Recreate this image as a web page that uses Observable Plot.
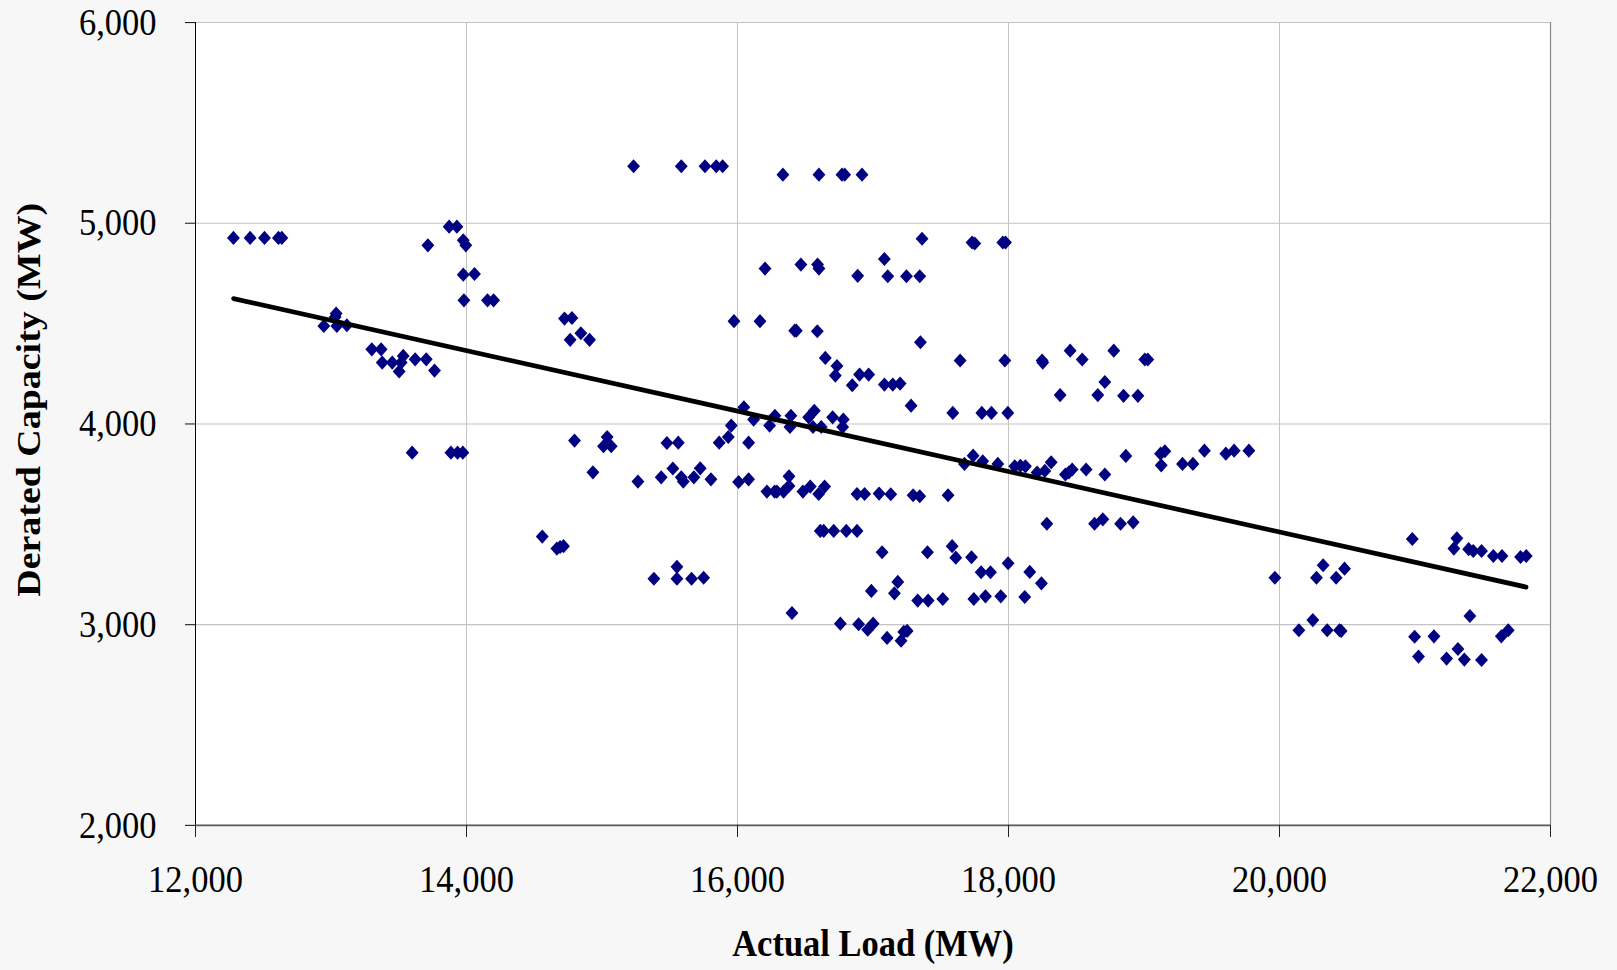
<!DOCTYPE html>
<html>
<head>
<meta charset="utf-8">
<script src="https://cdn.jsdelivr.net/npm/d3@7"></script>
<script src="https://cdn.jsdelivr.net/npm/@observablehq/plot@0.6"></script>
<style>
  html { overflow: hidden; background: #f7f7f7; }
  body { margin: 0; padding: 0; background: #f7f7f7; }
  #chart svg { display: block; }
</style>
</head>
<body>
<div id="chart"></div>
<script>
// Hourly observations: actual system load vs. derated capacity (both MW)
const loadMW = [
  12280, 12403, 12509, 12612, 12637, 13715, 13872, 13929, 13976, 13995,
  13976, 14059, 13981, 14155, 14200, 13038, 13031, 12947, 13043, 13117,
  13301, 13370, 13378, 13452, 13518, 13533, 13503, 13621, 13703, 13764,
  15233, 15585, 15760, 15843, 15890, 16335, 16601, 16771, 16791, 16919,
  16203, 16468, 16591, 16601, 16887, 14723, 14778, 14765, 14844, 14908,
  15974, 16166, 16422, 16434, 16589, 16648, 16734, 16722, 16847, 16901,
  16968, 16047, 15954, 16119, 16237, 16276, 16394, 16387, 16525, 16567,
  16557, 16618, 16702, 16781, 16776,
  17362, 17731, 17751, 17958, 17978, 17084, 17109, 17247, 17345, 17350,
  17643, 17973, 18248, 18253, 18455, 18544, 18777, 19006, 19028, 18711,
  18381, 18659, 18849, 18955, 17084, 17146, 17200, 17281, 17589, 17803,
  17874, 17995,
  13599, 13885, 13934, 13973,
  14797, 15038, 15011, 15068, 15479, 15563, 15865, 15932, 16082, 14933,
  15265, 15437, 15523, 15585, 15600, 15678, 15725, 15804, 16008, 16082,
  16217, 16274, 16291, 16340, 16380, 16380, 16483, 16537, 16599, 16643,
  16882, 16938, 14559, 14667, 14691, 14716, 15383, 15553, 15553, 15661,
  15750, 16611, 16636, 16710, 16803, 16882, 16402, 16759, 16894,
  17739, 17675, 17810, 17921, 18046, 18088, 18125, 18211, 18268, 18315,
  18420, 18445, 18470, 18573, 18711, 18866, 19122, 19154, 19127, 19284,
  19361, 17045, 17131, 17296, 17345, 17554, 18283, 18635, 18696, 18827,
  18920, 17067, 17402, 17584, 17611, 17727, 17798, 17867, 17997, 18157,
  18243, 16988, 17183, 17158, 17330, 17407, 17515, 17744, 17830, 17943,
  18120, 16961, 17001, 17104, 17207, 17227, 17252,
  19446, 19604, 19665, 19774, 19966, 20273, 20322, 20418, 20480, 20143,
  20246, 20352, 20443, 20455, 20980, 21309, 21287, 21396, 21430, 21491,
  21578, 21642, 21779, 21821, 20997, 21026, 21140, 21233, 21317, 21364,
  21491, 21405, 21637, 21688
];
const capacityMW = [
  4927, 4927, 4927, 4927, 4927, 4890, 4983, 4983, 4915, 4890,
  4744, 4747, 4616, 4616, 4616, 4550, 4533, 4488, 4488, 4492,
  4372, 4372, 4306, 4306, 4306, 4339, 4262, 4322, 4322, 4266,
  5284, 5284, 5284, 5284, 5284, 5242, 5242, 5242, 5242, 5242,
  4774, 4794, 4794, 4774, 4738, 4525, 4528, 4419, 4452, 4419,
  4512, 4512, 4465, 4465, 4462, 4329, 4289, 4241, 4193, 4246,
  4246, 4083, 3992, 4022, 3992, 4041, 4041, 3985, 4033, 4066,
  3985, 3985, 4033, 4022, 3985,
  4923, 4904, 4899, 4904, 4904, 4822, 4736, 4736, 4736, 4407,
  4316, 4316, 4316, 4306, 4365, 4321, 4365, 4321, 4321, 4209,
  4144, 4144, 4140, 4140, 4196, 4196, 4201, 4091, 4055, 4055,
  4055, 4055,
  3857, 3857, 3857, 3857,
  3917, 3935, 3889, 3889, 3905, 3907, 3907, 3935, 3907, 3759,
  3713, 3734, 3778, 3734, 3713, 3734, 3779, 3724, 3711, 3724,
  3663, 3663, 3663, 3663, 3691, 3739, 3663, 3688, 3651, 3688,
  3651, 3651, 3439, 3379, 3387, 3391, 3229, 3288, 3229, 3229,
  3234, 3467, 3467, 3467, 3467, 3467, 3058, 3005, 3002,
  3842, 3801, 3814, 3801, 3789, 3792, 3789, 3758, 3766, 3809,
  3748, 3758, 3773, 3773, 3748, 3841, 3852, 3864, 3794, 3801,
  3801, 3653, 3650, 3645, 3640, 3645, 3503, 3503, 3525, 3503,
  3510, 3361, 3361, 3391, 3334, 3336, 3261, 3261, 3306, 3263,
  3206, 3168, 3213, 3156, 3120, 3120, 3128, 3128, 3141, 3141,
  3138, 2975, 3005, 2934, 2920, 2964, 2969,
  3867, 3852, 3867, 3867, 3234, 3234, 3296, 3234, 3279, 2972,
  3023, 2972, 2972, 2969, 3427, 3430, 3379, 3376, 3367, 3367,
  3342, 3342, 3337, 3342, 2940, 2841, 2942, 2831, 2879, 2826,
  2824, 3043, 2942, 2972
];
const xTicks = [12000, 14000, 16000, 18000, 20000, 22000];
const yTicks = [2000, 3000, 4000, 5000, 6000];
const xTitle = "Actual Load (MW)";
const yTitle = "Derated Capacity (MW)";

const points = loadMW.map((load, i) => ({load, capacity: capacityMW[i]}));
const fmt = d3.format(",");
const serif = "'Liberation Serif', 'Times New Roman', serif";

// Drawn on an 882-unit-tall canvas, then shown 970px tall (tall, narrow lettering)
const baseHeight = 882;
const shownHeight = 970;

const chart = Plot.plot({
  width: 1617,
  height: baseHeight,
  marginLeft: 195,
  marginRight: 67,
  marginTop: 20,
  marginBottom: 132,
  style: {background: "#f7f7f7", fontFamily: serif, color: "black"},
  x: {domain: [xTicks[0], xTicks[xTicks.length - 1]]},
  y: {domain: [yTicks[0], yTicks[yTicks.length - 1]]},
  marks: [
    Plot.frame({fill: "white", stroke: "none"}),
    Plot.gridX(xTicks, {stroke: "#c4c4c4", strokeOpacity: 1, strokeWidth: 1}),
    Plot.gridY(yTicks, {stroke: "#c4c4c4", strokeOpacity: 1, strokeWidth: 1}),
    Plot.ruleX([xTicks[xTicks.length - 1]], {stroke: "#8a8a8a", strokeWidth: 1.2}),
    Plot.ruleY([yTicks[0]], {stroke: "#5c5c5c", strokeWidth: 1.8}),
    Plot.ruleX([xTicks[0]], {stroke: "black", strokeWidth: 1}),
    Plot.dot(points, {x: "load", y: "capacity", symbol: "diamond2", r: 5.8, fill: "#000080", stroke: "none"}),
    Plot.linearRegressionY(points, {x: "load", y: "capacity", stroke: "black", strokeWidth: 4.3, ci: 0}),
    Plot.axisY({ticks: yTicks, tickFormat: fmt, tickSize: 10, tickPadding: 29, fontSize: 34.5, label: null, stroke: "#222"}),
    Plot.axisX({ticks: xTicks, tickFormat: fmt, tickSize: 11, tickPadding: 25, fontSize: 34.5, label: null, stroke: "#222"}),
    Plot.text([xTitle], {frameAnchor: "bottom", dy: 108, text: d => d, fontSize: 34.5, fontWeight: "bold", textAnchor: "middle", lineAnchor: "middle"}),
    Plot.text([yTitle], {frameAnchor: "left", dx: -167, dy: -22, rotate: -90, text: d => d, fontSize: 34.5, fontWeight: "bold", textAnchor: "middle", lineAnchor: "middle"})
  ]
});
chart.setAttribute("height", shownHeight);
chart.setAttribute("preserveAspectRatio", "none");
document.getElementById("chart").append(chart);
</script>
</body>
</html>
